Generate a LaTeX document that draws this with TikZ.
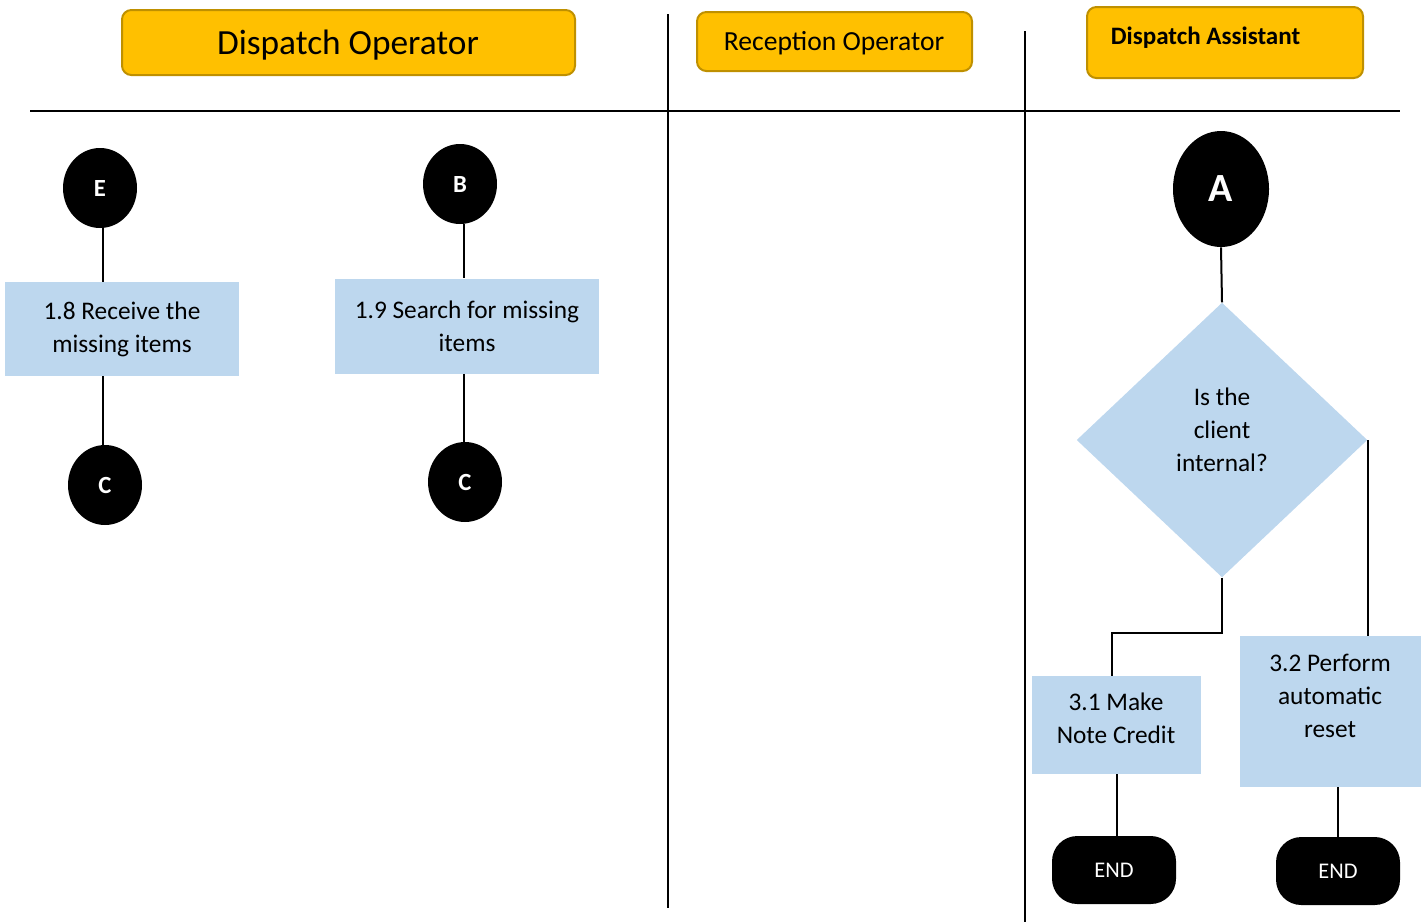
\documentclass[tikz,border=0pt]{standalone}
\usepackage{fontspec}
\setmainfont{Carlito}
\usetikzlibrary{shapes.geometric,positioning}
\definecolor{headgold}{HTML}{FFC000}
\definecolor{headedge}{HTML}{BF9000}
\definecolor{stepblue}{HTML}{BDD7EE}
\tikzset{
	lane/.style={line width=1.5pt},
	link/.style={line width=1.5pt},
	header/.style={draw=headedge,fill=headgold,line width=1.5pt,rounded corners=7pt},
	headtext/.style={inner sep=0pt},
	stepbox/.style={fill=stepblue,inner sep=0pt,align=center,font=\fontsize{19}{24.75}\selectfont},
	steptext/.style={align=center,inner sep=0pt,font=\fontsize{19}{24.75}\selectfont},
	connector/.style={ellipse,fill=black,text=white,inner sep=0pt,minimum width=55.5pt,minimum height=60pt,font=\fontsize{18.5}{20}\selectfont\bfseries},
	decision/.style={diamond,fill=stepblue,inner sep=0pt,minimum width=218pt,minimum height=206pt},
	terminal/.style={fill=black,text=white,rounded corners=19pt,inner sep=0pt,minimum width=93pt,minimum height=51pt,font=\fontsize{16.8}{18}\selectfont}
}
\begin{document}
\begin{tikzpicture}[x=0.75pt,y=-0.75pt]
		\useasboundingbox (0,0) rectangle (1427,922);
		% lanes
		\coordinate (hl) at (30,111);
		\coordinate (hr) at (1400,111);
		\coordinate (va) at (668,14);
		\coordinate (vb) at (668,908);
		\coordinate (vc) at (1025,31);
		\coordinate (vd) at (1025,922);
		\draw[lane] (hl)--(hr);
		\draw[lane] (va)--(vb);
		\draw[lane] (vc)--(vd);
		% headers
		\node at (348.5,42.5)[header,minimum width=339.75pt,minimum height=48.75pt] (opdisp) {};
		\node at (348,45)[headtext,font=\fontsize{26.5}{30}\selectfont] (opdisptxt) {Dispatch Operator};
		\node at (834.5,41.5)[header,minimum width=206.25pt,minimum height=44.25pt] (oprecep) {};
		\node at (834,43)[headtext,font=\fontsize{20.7}{24}\selectfont] (opreceptxt) {Reception Operator};
		\node at (1225,42.5)[header,minimum width=207pt,minimum height=53.25pt] (asdisp) {};
		\node at (1205.5,37.5)[headtext,font=\fontsize{18.8}{22}\selectfont\bfseries] (asdisptxt) {Dispatch Assistant};
		% dispatch operator lane
		\node at (100,188)[connector] (ce) {E};
		\node at (122,329)[stepbox,minimum width=175.5pt,minimum height=70.5pt] (s18) {1.8 Receive the\\missing items};
		\node at (105,485)[connector] (cc1) {C};
		\node at (460,184)[connector] (cb) {B};
		\node at (467,326)[stepbox,minimum width=198pt,minimum height=71.25pt] (s19) {1.9 Search for missing\\items};
		\node at (465,482)[connector] (cc2) {C};
		\draw[link] ([xshift=2pt]ce.south)--([xshift=2pt]ce.south|-s18.north);
		\draw[link] ([xshift=2pt]s18.south-|ce.south)--([xshift=2pt]cc1.north-|ce.south);
		\draw[link] ([xshift=3pt]cb.south)--([xshift=3pt]cb.south|-s19.north);
		\draw[link] ([xshift=3pt]s19.south-|cb.south)--([xshift=3pt]cc2.north-|cb.south);
		% dispatch assistant lane
		\node at (1221,189)[connector,minimum width=72pt,minimum height=87pt,font=\fontsize{30}{34}\selectfont\bfseries] (ca) {A};
		\node at (1222,440)[decision] (dint) {};
		\node at (1222,430)[steptext] (dinttxt) {Is the\\client\\internal?};
		\node at (1116.5,725)[stepbox,minimum width=126.75pt,minimum height=73.5pt] (s31) {};
		\node at (1116,718.5)[steptext] (s31txt) {3.1 Make\\Note Credit};
		\node at (1330.5,711.5)[stepbox,minimum width=135.75pt,minimum height=113.25pt] (s32) {};
		\node at (1330,695.5)[steptext] (s32txt) {3.2 Perform\\automatic\\reset};
		\node at (1114,870)[terminal] (end1) {END};
		\node at (1338,871)[terminal] (end2) {END};
		\draw[link] (ca.south)--(dint.north);
		\draw[link] (dint.south)--++(0,55)-|([xshift=-3.75pt]s31.north);
		\draw[link] (dint.east)--(dint.east|-s32.north);
		\draw[link] (s31.south)--(s31.south|-end1.north);
		\draw[link] (s32.south-|end2.north)--(end2.north);
\end{tikzpicture}
\end{document}
